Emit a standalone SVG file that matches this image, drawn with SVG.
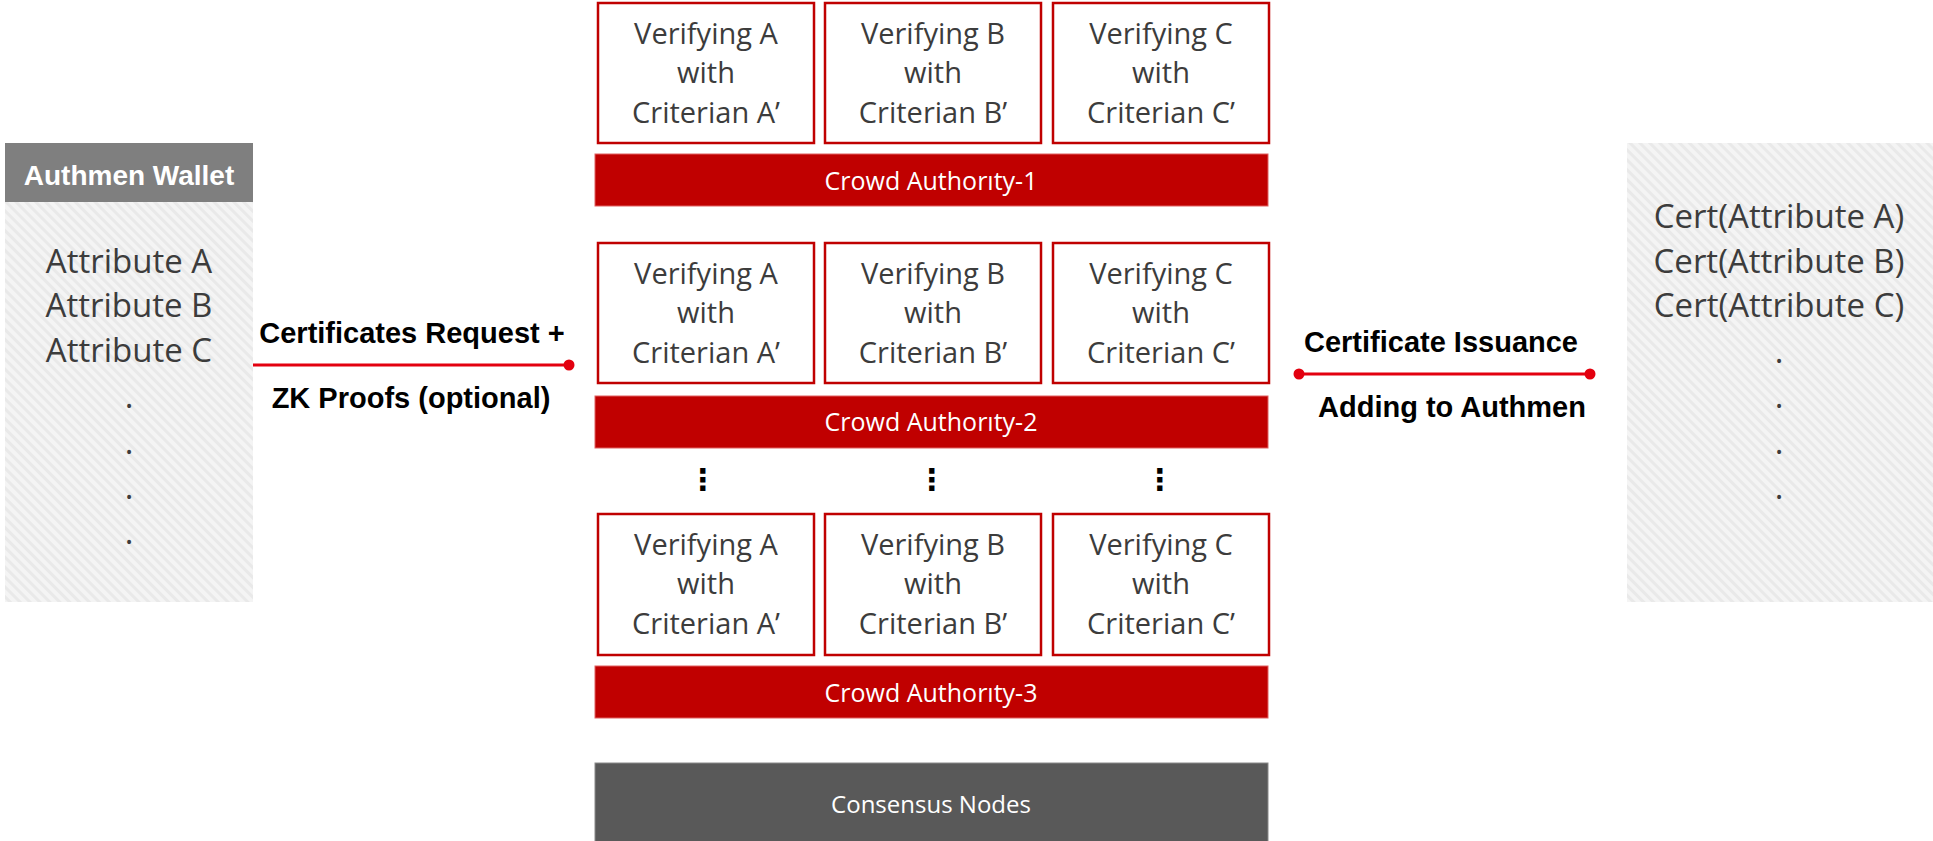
<svg xmlns="http://www.w3.org/2000/svg" width="1933" height="841" viewBox="0 0 1933 841">
<defs>
<pattern id="hatch" width="7" height="7" patternUnits="userSpaceOnUse" patternTransform="rotate(-45)">
<rect width="7" height="7" fill="#f4f4f4"/>
<rect width="3" height="7" fill="#e9e9e9"/>
</pattern>
<marker id="dot" viewBox="0 0 12 12" refX="6" refY="6" markerWidth="12" markerHeight="12" markerUnits="userSpaceOnUse">
<circle cx="6" cy="6" r="5.5" fill="#e3000f"/>
</marker>
</defs>
<style>
.cal{font-family:"Open Sans","Noto Sans",sans-serif;}
.dark{fill:#3c3c3c;}
.box{fill:#ffffff;stroke:#c00000;stroke-width:2.5;}
.bar{fill:#c00000;stroke:#e06060;stroke-width:1;}
.bt{font-size:29px;text-anchor:middle;}
.att{font-size:33px;text-anchor:middle;}
.bold{font-family:"Liberation Sans",Arial,sans-serif;font-weight:bold;font-size:29px;fill:#000000;text-anchor:middle;}
.wt{fill:#ffffff;text-anchor:middle;}
.vd{font-family:"DejaVu Sans",sans-serif;font-weight:bold;font-size:30px;fill:#000000;text-anchor:middle;}
.conn{stroke:#e3000f;stroke-width:3;fill:none;}
</style>

<g id="wallet">
<rect x="5" y="202" width="248" height="400" fill="url(#hatch)"/>
<rect x="5" y="143" width="248" height="59" fill="#7f7f7f"/>
<text x="129" y="185" class="bold" style="fill:#ffffff;font-size:28px">Authmen Wallet</text>
<text x="129" y="273" class="cal dark att">Attribute A</text>
<text x="129" y="317" class="cal dark att">Attribute B</text>
<text x="129" y="362" class="cal dark att">Attribute C</text>
<text x="129" y="408" class="cal dark att">.</text>
<text x="129" y="454" class="cal dark att">.</text>
<text x="129" y="499" class="cal dark att">.</text>
<text x="129" y="544" class="cal dark att">.</text>
</g>

<g id="certs">
<rect x="1627" y="143" width="306" height="459" fill="url(#hatch)"/>
<text x="1779" y="228" class="cal dark att">Cert(Attribute A)</text>
<text x="1779" y="273" class="cal dark att">Cert(Attribute B)</text>
<text x="1779" y="317" class="cal dark att">Cert(Attribute C)</text>
<text x="1779" y="363" class="cal dark att">.</text>
<text x="1779" y="408" class="cal dark att">.</text>
<text x="1779" y="454" class="cal dark att">.</text>
<text x="1779" y="499" class="cal dark att">.</text>
</g>

<g id="authority-1">
<rect x="598" y="3" width="216" height="140" class="box"/>
<rect x="825" y="3" width="216" height="140" class="box"/>
<rect x="1053" y="3" width="216" height="140" class="box"/>
<text class="cal dark bt"><tspan x="706" y="44">Verifying A</tspan><tspan x="706" y="83">with</tspan><tspan x="706" y="123">Criterian A’</tspan></text>
<text class="cal dark bt"><tspan x="933" y="44">Verifying B</tspan><tspan x="933" y="83">with</tspan><tspan x="933" y="123">Criterian B’</tspan></text>
<text class="cal dark bt"><tspan x="1161" y="44">Verifying C</tspan><tspan x="1161" y="83">with</tspan><tspan x="1161" y="123">Criterian C’</tspan></text>
<rect x="595" y="154" width="673" height="52" class="bar"/>
<text x="931" y="190" class="cal wt" style="font-size:25px">Crowd Authorıty-1</text>
</g>

<g id="authority-2">
<rect x="598" y="243" width="216" height="140" class="box"/>
<rect x="825" y="243" width="216" height="140" class="box"/>
<rect x="1053" y="243" width="216" height="140" class="box"/>
<text class="cal dark bt"><tspan x="706" y="284">Verifying A</tspan><tspan x="706" y="323">with</tspan><tspan x="706" y="363">Criterian A’</tspan></text>
<text class="cal dark bt"><tspan x="933" y="284">Verifying B</tspan><tspan x="933" y="323">with</tspan><tspan x="933" y="363">Criterian B’</tspan></text>
<text class="cal dark bt"><tspan x="1161" y="284">Verifying C</tspan><tspan x="1161" y="323">with</tspan><tspan x="1161" y="363">Criterian C’</tspan></text>
<rect x="595" y="396" width="673" height="52" class="bar"/>
<text x="931" y="431" class="cal wt" style="font-size:25px">Crowd Authorıty-2</text>
</g>

<g id="ellipsis">
<text x="703" y="490" class="vd">⋮</text>
<text x="932" y="490" class="vd">⋮</text>
<text x="1160" y="490" class="vd">⋮</text>
</g>

<g id="authority-3">
<rect x="598" y="514" width="216" height="141" class="box"/>
<rect x="825" y="514" width="216" height="141" class="box"/>
<rect x="1053" y="514" width="216" height="141" class="box"/>
<text class="cal dark bt"><tspan x="706" y="555">Verifying A</tspan><tspan x="706" y="594">with</tspan><tspan x="706" y="634">Criterian A’</tspan></text>
<text class="cal dark bt"><tspan x="933" y="555">Verifying B</tspan><tspan x="933" y="594">with</tspan><tspan x="933" y="634">Criterian B’</tspan></text>
<text class="cal dark bt"><tspan x="1161" y="555">Verifying C</tspan><tspan x="1161" y="594">with</tspan><tspan x="1161" y="634">Criterian C’</tspan></text>
<rect x="595" y="666" width="673" height="52" class="bar"/>
<text x="931" y="702" class="cal wt" style="font-size:25px">Crowd Authorıty-3</text>
</g>

<g id="consensus">
<rect x="595" y="763" width="673" height="80" fill="#595959" stroke="#8a8a8a" stroke-width="1"/>
<text x="931" y="813" class="cal wt" style="font-size:24px">Consensus Nodes</text>
</g>

<g id="connectors">
<line x1="253" y1="365" x2="569" y2="365" class="conn" marker-end="url(#dot)"/>
<text x="412" y="343" class="bold">Certificates Request +</text>
<text x="411" y="408" class="bold">ZK Proofs (optional)</text>
<line x1="1299" y1="374" x2="1590" y2="374" class="conn" marker-start="url(#dot)" marker-end="url(#dot)"/>
<text x="1441" y="352" class="bold">Certificate Issuance</text>
<text x="1452" y="417" class="bold">Adding to Authmen</text>
</g>
</svg>
